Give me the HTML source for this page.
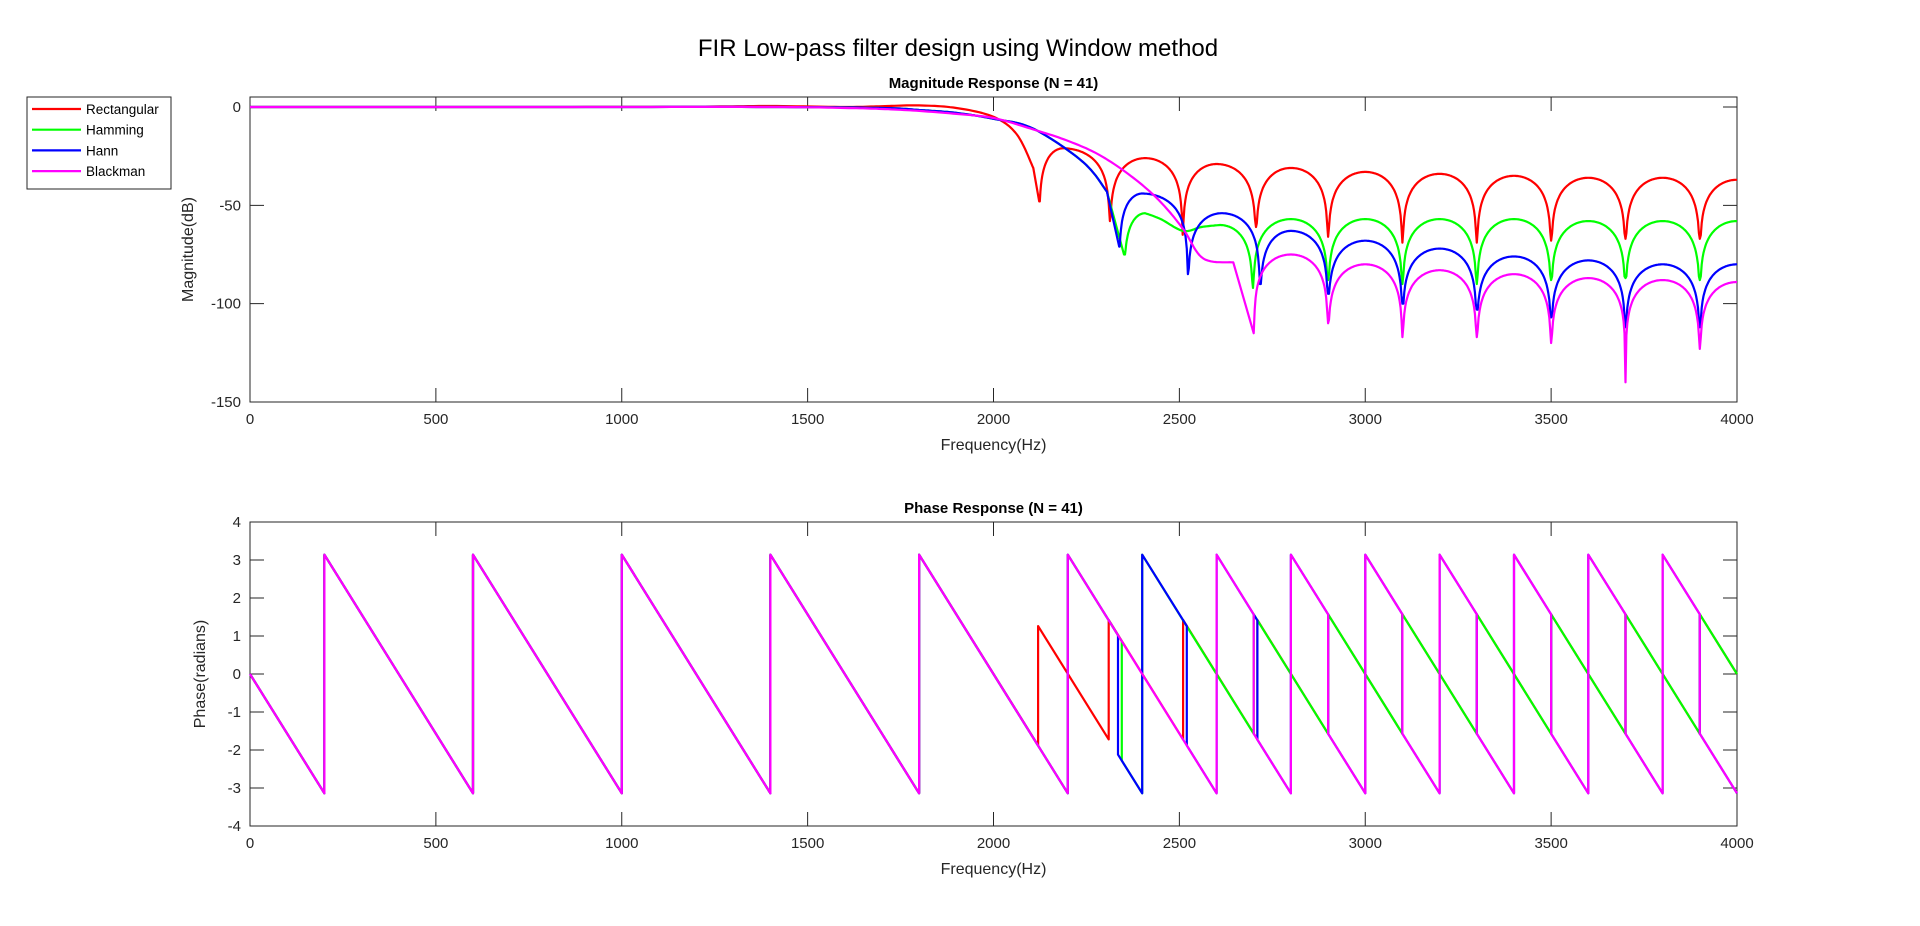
<!DOCTYPE html>
<html><head><meta charset="utf-8">
<style>
html,body{margin:0;padding:0;background:#fff;}
svg{display:block;font-family:"Liberation Sans",Arial,sans-serif;}
</style></head>
<body>
<svg id="fig" width="1920" height="926" viewBox="0 0 1920 926" xmlns="http://www.w3.org/2000/svg">
<rect width="1920" height="926" fill="#fff"/>
<text x="958" y="56" font-size="24" text-anchor="middle" fill="#000">FIR Low-pass filter design using Window method</text>
<g id="topAx"></g>
<g id="botAx"></g>
<g id="legend"></g>
</svg>
<script>
// ---------- data ----------
const xTicks = [0,500,1000,1500,2000,2500,3000,3500,4000];
const magTicks = [0,-50,-100,-150];
const phTicks = [-4,-3,-2,-1,0,1,2,3,4];
const seriesNames = ["Rectangular","Hamming","Hann","Blackman"];
const seriesColors = ["#ff0000","#00ff00","#0000ff","#ff00ff"];

// magnitude key points: frequency, dB, kind (p=plain, n=null, k=lobe peak)
const rectF  = [0,400,800,1200,1400,1600,1700,1800,1900,2000,2063,2107,2123,2187,2313,2408,2509,2600,2706,2800,2900,3000,3100,3200,3300,3400,3500,3600,3700,3800,3900,4000];
const rectDb = [0,0,0,0.2,0.5,0,0.4,0.8,-0.5,-5,-14,-31,-48,-21,-58,-26,-65,-29,-61,-31,-66,-33,-69,-34,-69,-35,-68,-36,-67,-36,-67,-37];
const rectK  = "ppppppppppppnknknknknknknknknknk";
const hammF  = [0,800,1400,1700,1800,1900,2000,2107,2241,2305,2351,2408,2450,2510,2560,2609,2698,2800,2900,3000,3100,3200,3300,3400,3500,3600,3700,3800,3900,4000];
const hammDb = [0,0,0,-0.5,-1.5,-3,-6,-11,-28,-43,-75,-54,-57,-63,-61,-60,-92,-57,-88,-57,-90,-57,-90,-57,-88,-58,-87,-58,-88,-58];
const hammK  = "ppppppppppnkpppknknknknknknknk";
const hannF  = [0,800,1400,1700,1800,1900,2000,2107,2241,2305,2338,2400,2523,2614,2717,2800,2900,3000,3100,3200,3300,3400,3500,3600,3700,3800,3900,4000];
const hannDb = [0,0,0,-0.5,-1.5,-3,-6,-11,-28,-43,-71,-44,-85,-54,-90,-63,-95,-68,-100,-72,-103,-76,-107,-78,-112,-80,-112,-80];
const hannK  = "ppppppppppnknknknknknknknknk";
const blackF  = [0,800,1400,1600,1700,1800,1900,2000,2100,2197,2286,2376,2448,2510,2564,2645,2700,2800,2900,3000,3100,3200,3300,3400,3500,3600,3700,3800,3900,4000];
const blackDb = [0,0,0,-0.5,-1,-2,-3.5,-5.6,-11,-17,-24.5,-36,-48,-62,-77,-79,-115,-75,-110,-80,-117,-83,-117,-85,-120,-87,-140,-88,-123,-89];
const blackK  = "ppppppppppppppppnknknknknknknk";

// phase vertices
const sawF = [0,200,200,600,600,1000,1000,1400,1400,1800,1800];
const sawV = [0,-3.14,3.14,-3.14,3.14,-3.14,3.14,-3.14,3.14,-3.14,3.14];
const rectPhF = [2120,2120,2310,2310,2510,2510,2710,2710,2900,2900,3100,3100,3300,3300,3500,3500,3700,3700,3900,3900,4000];
const rectPhV = [-1.88,1.26,-1.72,1.42,-1.72,1.42,-1.72,1.42,-1.57,1.57,-1.57,1.57,-1.57,1.57,-1.57,1.57,-1.57,1.57,-1.57,1.57,0];
const hammPhF = [2200,2200,2345,2345,2400,2400,2700,2700,2900,2900,3100,3100,3300,3300,3500,3500,3700,3700,3900,3900,4000];
const hammPhV = [-3.14,3.14,0.86,-2.28,-3.14,3.14,-1.57,1.57,-1.57,1.57,-1.57,1.57,-1.57,1.57,-1.57,1.57,-1.57,1.57,-1.57,1.57,0];
const hannPhF = [2200,2200,2335,2335,2400,2400,2520,2520,2600,2600,2710,2710,2800,2800,2900,2900,3000,3000,3100,3100,3200,3200,3300,3300,3400,3400,3500,3500,3600,3600,3700,3700,3800,3800,3900,3900,4000];
const hannPhV = [-3.14,3.14,1.02,-2.12,-3.14,3.14,1.26,-1.88,-3.14,3.14,1.41,-1.73,-3.14,3.14,1.57,-1.57,-3.14,3.14,1.57,-1.57,-3.14,3.14,1.57,-1.57,-3.14,3.14,1.57,-1.57,-3.14,3.14,1.57,-1.57,-3.14,3.14,1.57,-1.57,-3.14];
const blackPhF = [2200,2200,2600,2600,2700,2700,2800,2800,2900,2900,3000,3000,3100,3100,3200,3200,3300,3300,3400,3400,3500,3500,3600,3600,3700,3700,3800,3800,3900,3900,4000];
const blackPhV = [-3.14,3.14,-3.14,3.14,1.57,-1.57,-3.14,3.14,1.57,-1.57,-3.14,3.14,1.57,-1.57,-3.14,3.14,1.57,-1.57,-3.14,3.14,1.57,-1.57,-3.14,3.14,1.57,-1.57,-3.14,3.14,1.57,-1.57,-3.14];

// ---------- rendering ----------
const NS = "http://www.w3.org/2000/svg";
function mk(tag, attrs, parent){const e=document.createElementNS(NS,tag);for(const k in attrs)e.setAttribute(k,attrs[k]);parent.appendChild(e);return e;}
const L=250,R=1737;
const xs = f => L + (f/4000)*(R-L);
const T1=97,B1=402, yMag = d => 107 - d*(295/150);
const T2=522,B2=826, yPh = p => 674 - p*38;

function axes(g, T, B, yTicks, yf, title, ylab, ylabX){
  const box = mk('rect',{x:L,y:T,width:R-L,height:B-T,fill:'none',stroke:'#262626','stroke-width':1},g);
  
  
  xTicks.forEach(t=>{
    const x=xs(t);
    const tk=mk('path',{d:`M${x},${B}V${B-14}M${x},${T}V${T+14}`,stroke:'#262626','stroke-width':1},g);
    
    
    const tl=mk('text',{x:x,y:B+22,'font-size':15,'text-anchor':'middle',fill:'#262626'},g);
    tl.textContent=t;
    
    
  });
  yTicks.forEach(t=>{
    const y=yf(t);
    const tk=mk('path',{d:`M${L},${y}H${L+14}M${R},${y}H${R-14}`,stroke:'#262626','stroke-width':1},g);
    
    
    const tl=mk('text',{x:L-9,y:y+5,'font-size':15,'text-anchor':'end',fill:'#262626'},g);
    tl.textContent=t;
    
    
  });
  const ti=mk('text',{x:(L+R)/2,y:T-9,'font-size':15,'font-weight':'bold','text-anchor':'middle',fill:'#000'},g);
  ti.textContent=title;
  
  
  const xl=mk('text',{x:(L+R)/2,y:B+48,'font-size':16,'text-anchor':'middle',fill:'#262626'},g);
  xl.textContent='Frequency(Hz)';
  
  
  const cy=(T+B)/2;
  const yl=mk('text',{x:ylabX,y:cy,'font-size':16,'text-anchor':'middle',fill:'#262626',transform:`rotate(-90 ${ylabX} ${cy})`},g);
  yl.textContent=ylab;
  
  
}

function magPath(F,D,K){
  const n=F.length;
  let pts=[[F[0],D[0]]];
  for(let i=0;i<n-1;i++){
    const a=K[i],b=K[i+1];
    if((a==='n'&&b==='k')||(a==='k'&&b==='n')){
      const nf=a==='n'?F[i]:F[i+1], nd=a==='n'?D[i]:D[i+1];
      const pf=a==='n'?F[i+1]:F[i], pd=a==='n'?D[i+1]:D[i];
      const floor=Math.pow(10,(nd-pd)/20);
      const steps=40;
      for(let s=1;s<=steps;s++){
        const f=F[i]+(F[i+1]-F[i])*s/steps;
        const u=Math.abs(f-nf)/Math.abs(pf-nf);
        const v=Math.max(Math.sin(Math.PI/2*u),floor);
        pts.push([f,pd+20*Math.log10(v)]);
      }
    } else if(a!=='n'&&b!=='n'){
      // smooth Catmull-Rom through plain points
      const i0=Math.max(i-1,0), i3=Math.min(i+2,n-1);
      const p0=[F[i0],D[i0]],p1=[F[i],D[i]],p2=[F[i+1],D[i+1]],p3=[F[i3],D[i3]];
      const usable0 = K[i0]!=='n', usable3 = K[i3]!=='n';
      const q0=usable0?p0:p1, q3=usable3?p3:p2;
      const steps=12;
      for(let s=1;s<=steps;s++){
        const t=s/steps,t2=t*t,t3=t2*t;
        const c=j=>0.5*((2*p1[j])+(-q0[j]+p2[j])*t+(2*q0[j]-5*p1[j]+4*p2[j]-q3[j])*t2+(-q0[j]+3*p1[j]-3*p2[j]+q3[j])*t3);
        pts.push([c(0),c(1)]);
      }
    } else pts.push([F[i+1],D[i+1]]);
  }
  return 'M'+pts.map(p=>xs(p[0]).toFixed(1)+','+yMag(p[1]).toFixed(1)).join('L');
}
function phPath(F,V){
  const f=sawF.concat(F), v=sawV.concat(V);
  return 'M'+f.map((q,i)=>xs(q).toFixed(1)+','+yPh(v[i]).toFixed(1)).join('L');
}

const gTop=document.getElementById('topAx'), gBot=document.getElementById('botAx');
axes(gTop,T1,B1,magTicks,yMag,'Magnitude Response (N = 41)','Magnitude(dB)',193);
axes(gBot,T2,B2,phTicks,yPh,'Phase Response (N = 41)','Phase(radians)',205);

const magData=[[rectF,rectDb,rectK],[hammF,hammDb,hammK],[hannF,hannDb,hannK],[blackF,blackDb,blackK]];
const phData=[[rectPhF,rectPhV],[hammPhF,hammPhV],[hannPhF,hannPhV],[blackPhF,blackPhV]];
const clip=mk('clipPath',{id:'c1'},document.getElementById('fig'));
mk('rect',{x:L,y:T1,width:R-L,height:B1-T1},clip);
magData.forEach((d,i)=>{
  const p=mk('path',{d:magPath(d[0],d[1],d[2]),fill:'none',stroke:seriesColors[i],'stroke-width':2.2,'stroke-linejoin':'round','clip-path':'url(#c1)'},gTop);
  
  
});
phData.forEach((d,i)=>{
  const p=mk('path',{d:phPath(d[0],d[1]),fill:'none',stroke:seriesColors[i],'stroke-width':2.2,'stroke-linejoin':'round'},gBot);
  
  
});

const lg=document.getElementById('legend');
const lb=mk('rect',{x:27,y:97,width:144,height:92,fill:'#fff',stroke:'#262626','stroke-width':1},lg);


seriesNames.forEach((n,i)=>{
  const y=109+i*20.7;
  const ln=mk('line',{x1:32,y1:y,x2:81,y2:y,stroke:seriesColors[i],'stroke-width':2.2},lg);
  
  
  const t=mk('text',{x:86,y:y+5,'font-size':13.5,fill:'#000'},lg);
  t.textContent=n;
  
  
});
</script>
</body></html>
